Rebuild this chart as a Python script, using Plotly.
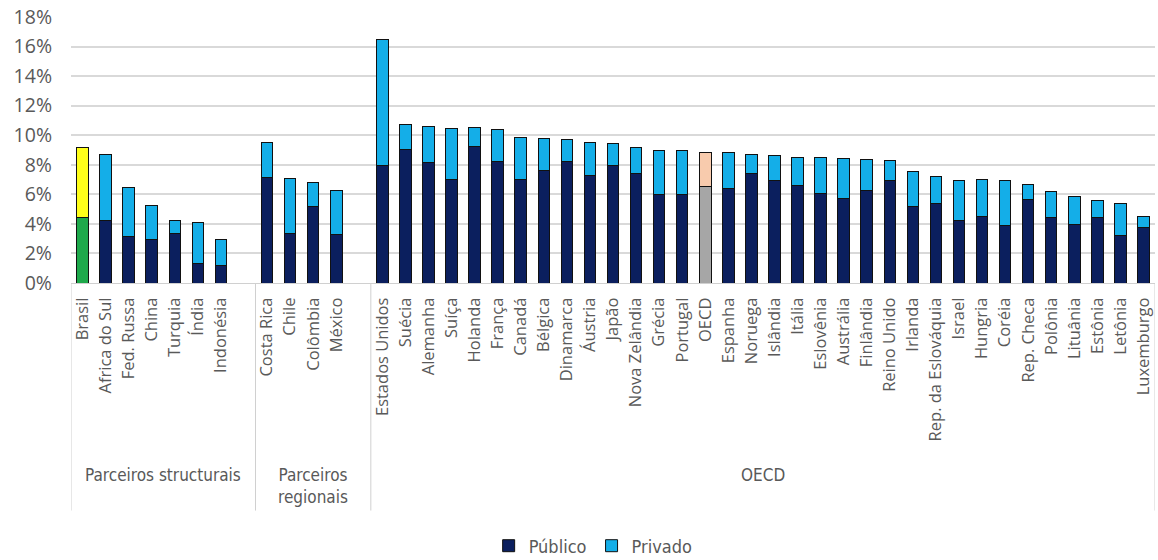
import plotly.graph_objects as go

# ---------------- data ----------------
grp_struct = ["Brasil", "Africa do Sul", "Fed. Russa", "China", "Turquia", "Índia", "Indonésia"]
pub_struct = [4.4, 4.25, 3.12, 2.96, 3.35, 1.31, 1.18]
tot_struct = [9.2, 8.7, 6.49, 5.27, 4.2, 4.09, 2.96]

grp_reg = ["Costa Rica", "Chile", "Colômbia", "México"]
pub_reg = [7.14, 3.35, 5.15, 3.28]
tot_reg = [9.49, 7.1, 6.78, 6.26]

grp_oecd = ["Estados Unidos", "Suécia", "Alemanha", "Suíça", "Holanda", "França", "Canadá",
            "Bélgica", "Dinamarca", "Áustria", "Japão", "Nova Zelândia", "Grécia", "Portugal",
            "OECD", "Espanha", "Noruega", "Islândia", "Itália", "Eslovênia", "Austrália",
            "Finlândia", "Reino Unido", "Irlanda", "Rep. da Eslováquia", "Israel", "Hungria",
            "Coréia", "Rep. Checa", "Polônia", "Lituânia", "Estônia", "Letônia", "Luxemburgo"]
pub_oecd = [7.98, 9.04, 8.14, 7.01, 9.27, 8.25, 7.01, 7.62, 8.25, 7.28, 7.93, 7.39, 6.01, 6.01,
            6.51, 6.4, 7.44, 6.96, 6.62, 6.06, 5.72, 6.26, 6.92, 5.2, 5.36, 4.23, 4.52,
            3.91, 5.65, 4.41, 3.93, 4.41, 3.23, 3.78]
tot_oecd = [16.45, 10.71, 10.62, 10.44, 10.53, 10.42, 9.86, 9.76, 9.72, 9.49, 9.47, 9.15, 8.97, 8.97,
            8.86, 8.84, 8.7, 8.6, 8.5, 8.5, 8.43, 8.34, 8.27, 7.57, 7.19, 6.96, 7.03,
            6.96, 6.67, 6.17, 5.86, 5.61, 5.36, 4.52]

group_names = ["Parceiros structurais", "Parceiros<br>regionais", "OECD"]
y_ticks = [0, 2, 4, 6, 8, 10, 12, 14, 16, 18]

# ---------------- build categories (blank slot after each partner group) ----------------
C_PUB = "#0b1f5e"
C_PRI = "#14aee8"
OUTLINE = dict(color="#111111", width=1)
groups = [(grp_struct, pub_struct, tot_struct, True),
          (grp_reg, pub_reg, tot_reg, True),
          (grp_oecd, pub_oecd, tot_oecd, False)]

cats, pub, pri, cpub, cpri = [], [], [], [], []
bounds = []
blank = 0
for names, p, t, gap in groups:
    start = len(cats)
    for n, pv, tv in zip(names, p, t):
        cats.append(n)
        pub.append(pv)
        pri.append(round(tv - pv, 3))
        if n == "Brasil":
            cpub.append("#1ea94b"); cpri.append("#ffff1a")
        elif n == "OECD":
            cpub.append("#a6a6a6"); cpri.append("#f8cbad")
        else:
            cpub.append(C_PUB); cpri.append(C_PRI)
    if gap:
        blank += 1
        cats.append(" " * blank)
        pub.append(None); pri.append(None)
        cpub.append(C_PUB); cpri.append(C_PRI)
    bounds.append((start - 0.5, len(cats) - 0.5))

fig = go.Figure()
fig.add_trace(go.Bar(x=cats, y=pub, name="Público", width=0.5, showlegend=False,
                     marker=dict(color=cpub, line=OUTLINE)))
fig.add_trace(go.Bar(x=cats, y=pri, name="Privado", width=0.5, showlegend=False,
                     marker=dict(color=cpri, line=OUTLINE)))
# legend entries
fig.add_trace(go.Bar(x=[cats[0]], y=[None], name="Público", marker=dict(color=C_PUB, line=OUTLINE)))
fig.add_trace(go.Bar(x=[cats[0]], y=[None], name="Privado", marker=dict(color=C_PRI, line=OUTLINE)))

# plot area in pixels: top 17, bottom 282.7
PH = 265.7
div_bottom = -(510 - 282.7) / PH
label_top = -(462 - 282.7) / PH

edges = sorted(set([b[0] for b in bounds] + [b[1] for b in bounds]))
for e in edges:
    fig.add_shape(type="line", xref="x", yref="paper", x0=e, x1=e, y0=0, y1=div_bottom,
                  line=dict(color="#d0d0d0", width=1))

GFONT = "Liberation Sans Narrow, DejaVu Sans Condensed, Open Sans"
for (a, b), g in zip(bounds, group_names):
    fig.add_annotation(x=(a + b) / 2, y=label_top, xref="x", yref="paper",
                       text=g, showarrow=False, yanchor="top",
                       font=dict(family=GFONT, size=17, color="#595959"))

fig.update_layout(
    width=1158, height=560,
    margin=dict(l=70.7, r=3, t=17, b=277.3, autoexpand=False),
    paper_bgcolor="white", plot_bgcolor="white",
    barmode="stack",
    font=dict(family="Open Sans", color="#595959"),
    legend=dict(orientation="h", x=(593 - 70.7) / 1084.3, xanchor="center",
                yref="container", y=1 - 546 / 560, yanchor="middle",
                font=dict(family=GFONT, size=18, color="#595959"),
                itemwidth=30, traceorder="normal", tracegroupgap=0,
                bgcolor="rgba(0,0,0,0)"),
    showlegend=True,
)
fig.update_xaxes(type="category", categoryorder="array", categoryarray=cats,
                 tickangle=-90, tickfont=dict(family="Open Sans", size=16.5, color="#595959"),
                 showline=True, linecolor="#d0d0d0", linewidth=1, showgrid=False,
                 ticks="", ticklabelstandoff=7, range=[-0.5, len(cats) - 0.5])
fig.update_yaxes(range=[0, 18], tickvals=y_ticks, ticktext=[f"{v}%" for v in y_ticks],
                 tickfont=dict(family="Open Sans", size=19.5, color="#595959"),
                 showgrid=True, gridcolor="#d9d9d9", gridwidth=1.5, zeroline=False,
                 ticks="", ticklabelstandoff=18)

fig.write_html("out.html")
